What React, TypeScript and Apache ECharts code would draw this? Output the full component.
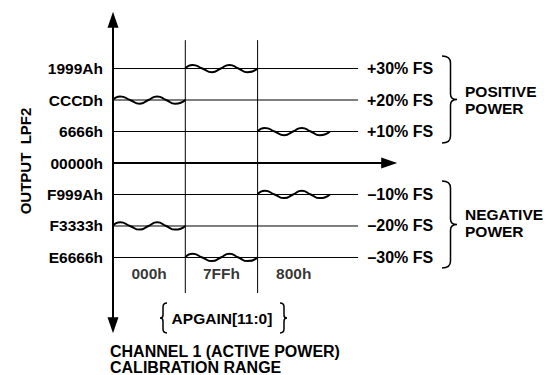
import React, { useEffect, useRef } from "react";
import * as echarts from "echarts";

// ---------- data ----------
const levels = [30, 20, 10, 0, -10, -20, -30];
const hexLabels = ["1999Ah", "CCCDh", "6666h", "00000h", "F999Ah", "F3333h", "E6666h"];
const fsLabels = ["+30% FS", "+20% FS", "+10% FS", "", "–10% FS", "–20% FS", "–30% FS"];
const columns = ["000h", "7FFh", "800h"];
const waveLevelsByColumn = [
  [20, -20],
  [30, -30],
  [10, -10],
];
// ripple shape (offset within a column, offset from level)
const waveShapeX = [0, 0.1, 0.235, 0.37, 0.49, 0.61, 0.735, 0.86, 1.0];
const waveShapeY = [0, 1.15, 0, -1.15, 0, 1.15, 0, -1.15, 0];
const dividerX = [1, 2];

// ---------- layout ----------
const Y_MIN = -51.5;
const Y_MAX = 45.5;
const X_MAX = 3.82;
const LEVEL_LINE_END = 3.39;
const DIVIDER_TOP = 39;
const DIVIDER_BOTTOM = -41.3;
const COLUMN_LABEL_Y = -35.2;
const FONT = "'Liberation Sans', Arial, Helvetica, sans-serif";
const FS = 15.5;
const FS_BIG = 16;
const INK = "#000";

function bracePath(w: number, h: number, stem: number, mirror: boolean) {
  const m = h / 2;
  const c = Math.min(7, h * 0.13);
  const X = (v: number) => (mirror ? w - v : v);
  return (
    `M${X(0)},0 C${X(stem * 0.7)},0 ${X(stem)},${c * 0.3} ${X(stem)},${c} ` +
    `L${X(stem)},${m - c * 0.8} C${X(stem)},${m - 1.5} ${X(stem + (w - stem) * 0.4)},${m} ${X(w)},${m} ` +
    `C${X(stem + (w - stem) * 0.4)},${m} ${X(stem)},${m + 1.5} ${X(stem)},${m + c * 0.8} ` +
    `L${X(stem)},${h - c} C${X(stem)},${h - c * 0.3} ${X(stem * 0.7)},${h} ${X(0)},${h}`
  );
}

echarts.graphic.registerShape("braceBig", echarts.graphic.extendPath(bracePath(15, 87, 8.5, false), {}));
echarts.graphic.registerShape("braceSmallR", echarts.graphic.extendPath(bracePath(7, 30, 4, false), {}));
echarts.graphic.registerShape("braceSmallL", echarts.graphic.extendPath(bracePath(7, 30, 4, true), {}));

export default function App() {
  const ref = useRef<HTMLDivElement>(null);

  useEffect(() => {
    if (!ref.current) return;
    const chart = echarts.init(ref.current, undefined, { renderer: "svg" });

    const levelSeries = levels
      .filter((l) => l !== 0)
      .map((l) => ({
        type: "line",
        data: [
          [0, l],
          [LEVEL_LINE_END, l],
        ],
        symbol: "none",
        lineStyle: { color: INK, width: 1 },
        z: 2,
        silent: true,
      }));

    const dividerSeries = dividerX.map((x) => ({
      type: "line",
      data: [
        [x, DIVIDER_TOP],
        [x, DIVIDER_BOTTOM],
      ],
      symbol: "none",
      lineStyle: { color: INK, width: 1 },
      z: 2,
      silent: true,
    }));

    const waveSeries: any[] = [];
    waveLevelsByColumn.forEach((lv, c) => {
      lv.forEach((l) => {
        waveSeries.push({
          type: "line",
          smooth: 0.6,
          data: waveShapeX.map((dx, i) => [c + dx, l + waveShapeY[i]]),
          symbol: "none",
          lineStyle: { color: INK, width: 2 },
          z: 4,
          silent: true,
        });
      });
    });

    const labelSeries = {
      type: "scatter",
      data: columns.map((_, i) => [i + 0.5, COLUMN_LABEL_Y]),
      symbolSize: 1,
      itemStyle: { color: "rgba(0,0,0,0)" },
      label: {
        show: true,
        position: "inside",
        formatter: (p: any) => columns[p.dataIndex],
        color: INK,
        fontSize: FS,
        fontWeight: "bold",
        fontFamily: FONT,
      },
      silent: true,
      z: 5,
    };

    const textStyle = (text: string, extra: any = {}) => ({
      text,
      fill: INK,
      fontSize: FS,
      fontWeight: "bold",
      fontFamily: FONT,
      ...extra,
    });

    chart.setOption({
      animation: false,
      backgroundColor: "#fff",
      grid: { left: 113, top: 19.7, width: 276.2, height: 305.5, containLabel: false },
      xAxis: {
        type: "value",
        min: 0,
        max: X_MAX,
        axisLine: {
          show: true,
          onZero: true,
          symbol: ["none", "triangle"],
          symbolSize: [11, 16],
          lineStyle: { color: INK, width: 2 },
        },
        axisTick: { show: false },
        axisLabel: { show: false },
        splitLine: { show: false },
      },
      yAxis: [
        {
          type: "value",
          min: Y_MIN,
          max: Y_MAX,
          position: "left",
          axisLine: {
            show: true,
            onZero: false,
            symbol: ["triangle", "triangle"],
            symbolSize: [11, 16],
            lineStyle: { color: INK, width: 2 },
          },
          axisTick: { show: false },
          splitLine: { show: false },
          axisLabel: {
            show: true,
            customValues: levels,
            formatter: (v: number) => hexLabels[levels.indexOf(v)] ?? "",
            margin: 10,
            color: INK,
            fontSize: FS,
            fontWeight: "bold",
            fontFamily: FONT,
          },
        },
        {
          type: "value",
          min: Y_MIN,
          max: Y_MAX,
          position: "right",
          axisLine: { show: false },
          axisTick: { show: false },
          splitLine: { show: false },
          axisLabel: {
            show: true,
            customValues: levels.filter((l) => l !== 0),
            formatter: (v: number) => fsLabels[levels.indexOf(v)] ?? "",
            margin: 44,
            align: "right",
            color: INK,
            fontSize: FS_BIG,
            fontWeight: "bold",
            fontFamily: FONT,
          },
        },
      ],
      series: [...levelSeries, ...dividerSeries, ...waveSeries, labelSeries],
      graphic: [
        {
          type: "text",
          x: 25,
          y: 161,
          rotation: Math.PI / 2,
          style: textStyle("OUTPUT  LPF2", { textAlign: "center", textVerticalAlign: "middle", fontSize: 15 }),
        },
        { type: "braceBig", x: 442, y: 56, style: { stroke: INK, fill: "none", lineWidth: 1.5 } },
        { type: "braceBig", x: 442, y: 181, style: { stroke: INK, fill: "none", lineWidth: 1.5 } },
        {
          type: "text",
          x: 465,
          y: 100,
          style: textStyle("POSITIVE\nPOWER", { textAlign: "left", textVerticalAlign: "middle", lineHeight: 17 }),
        },
        {
          type: "text",
          x: 465,
          y: 223,
          style: textStyle("NEGATIVE\nPOWER", { textAlign: "left", textVerticalAlign: "middle", lineHeight: 17 }),
        },
        { type: "braceSmallL", x: 160, y: 303, style: { stroke: INK, fill: "none", lineWidth: 1.5 } },
        { type: "braceSmallR", x: 280, y: 303, style: { stroke: INK, fill: "none", lineWidth: 1.5 } },
        {
          type: "text",
          x: 222,
          y: 318,
          style: textStyle("APGAIN[11:0]", { textAlign: "center", textVerticalAlign: "middle" }),
        },
        {
          type: "text",
          x: 110,
          y: 359,
          style: textStyle("CHANNEL 1 (ACTIVE POWER)\nCALIBRATION RANGE", {
            textAlign: "left",
            textVerticalAlign: "middle",
            lineHeight: 16,
            fontSize: FS_BIG,
          }),
        },
      ],
    });

    return () => chart.dispose();
  }, []);

  return (
    <div
      ref={ref}
      style={{ position: "fixed", left: 0, top: 0, width: 553, height: 375, background: "#fff" }}
    />
  );
}
